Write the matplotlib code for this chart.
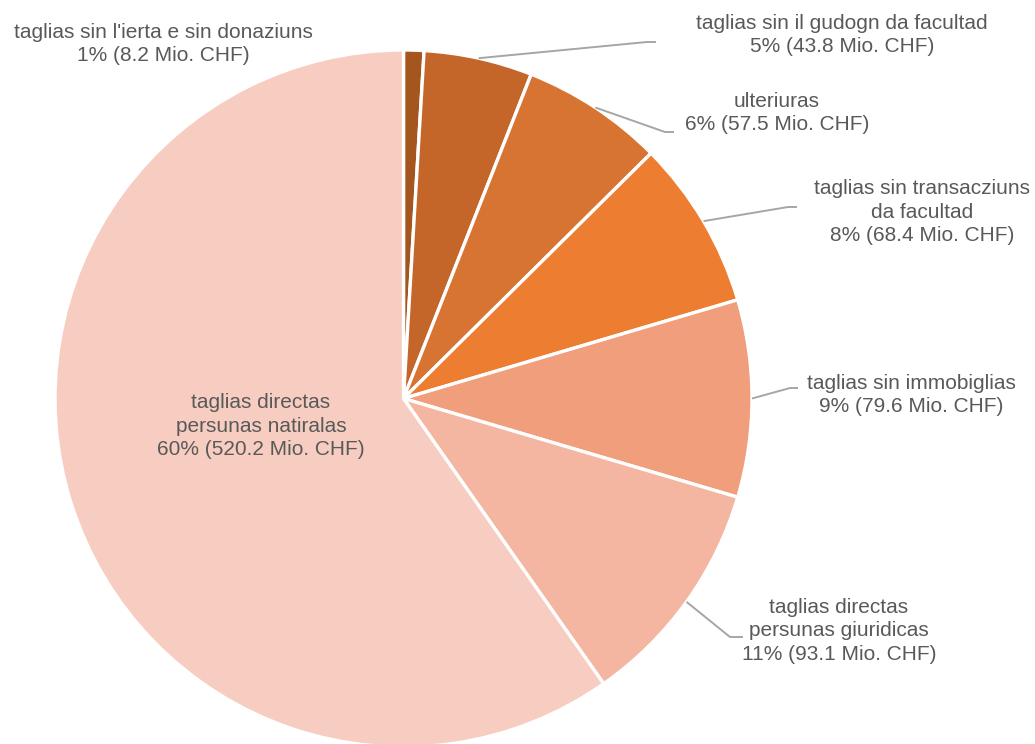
import numpy as np
import matplotlib.pyplot as plt

# data
labels = ["taglias sin l'ierta e sin donaziuns",
          "taglias sin il gudogn da facultad",
          "ulteriuras",
          "taglias sin transacziuns\nda facultad",
          "taglias sin immobiglias",
          "taglias directas\npersunas giuridicas",
          "taglias directas\npersunas natiralas"]
values = [8.2, 43.8, 57.5, 68.4, 79.6, 93.1, 520.2]
percents = [1, 5, 6, 8, 9, 11, 60]
colors = ["#A5561F", "#C4652A", "#D87431", "#ED7D31", "#F09E7B", "#F4B6A0", "#F8CDC1"]

W, H = 1035, 744
fig = plt.figure(figsize=(W / 100, H / 100), dpi=100)
ax = fig.add_axes([0, 0, 1, 1])

cx, cy, r = 403.5, H - 398.5, 348.5
wedges, _ = ax.pie(values, colors=colors, startangle=90, counterclock=False,
                   center=(cx, cy), radius=r, frame=True,
                   wedgeprops=dict(edgecolor="white", linewidth=2.4))
ax.set_xlim(0, W)
ax.set_ylim(0, H)
ax.set_aspect("equal")
ax.axis("off")

# label layout in pixel coords (top origin): text centre, leader bend, leader end
layout = [
    ((163, 44), None),
    ((842, 35), ((647, 42), (656, 42))),
    ((777, 113), ((665, 132), (674, 132))),
    ((922, 212), ((788, 207), (797, 207))),
    ((911, 395), ((790, 388), (798, 388))),
    ((839, 631), ((730, 637), (743, 637))),
    ((261, 426), None),
]

txt_color = "#595959"
for w, lab, val, pct, (pos, leader) in zip(wedges, labels, values, percents, layout):
    text = f"{lab}\n{pct}% ({val:.1f} Mio. CHF)"
    ax.text(pos[0], H - pos[1], text, ha="center", va="center", multialignment="center",
            fontsize=15, color=txt_color, family="Liberation Sans", linespacing=1.32)
    if leader is not None:
        mid = np.deg2rad((w.theta1 + w.theta2) / 2)
        sx, sy = cx + r * np.cos(mid), cy + r * np.sin(mid)
        xs = [sx, leader[0][0], leader[1][0]]
        ys = [sy, H - leader[0][1], H - leader[1][1]]
        ax.plot(xs, ys, color="#A6A6A6", linewidth=1.4, solid_capstyle="butt")

plt.savefig("out.png", dpi=100, facecolor="white")
plt.close()
